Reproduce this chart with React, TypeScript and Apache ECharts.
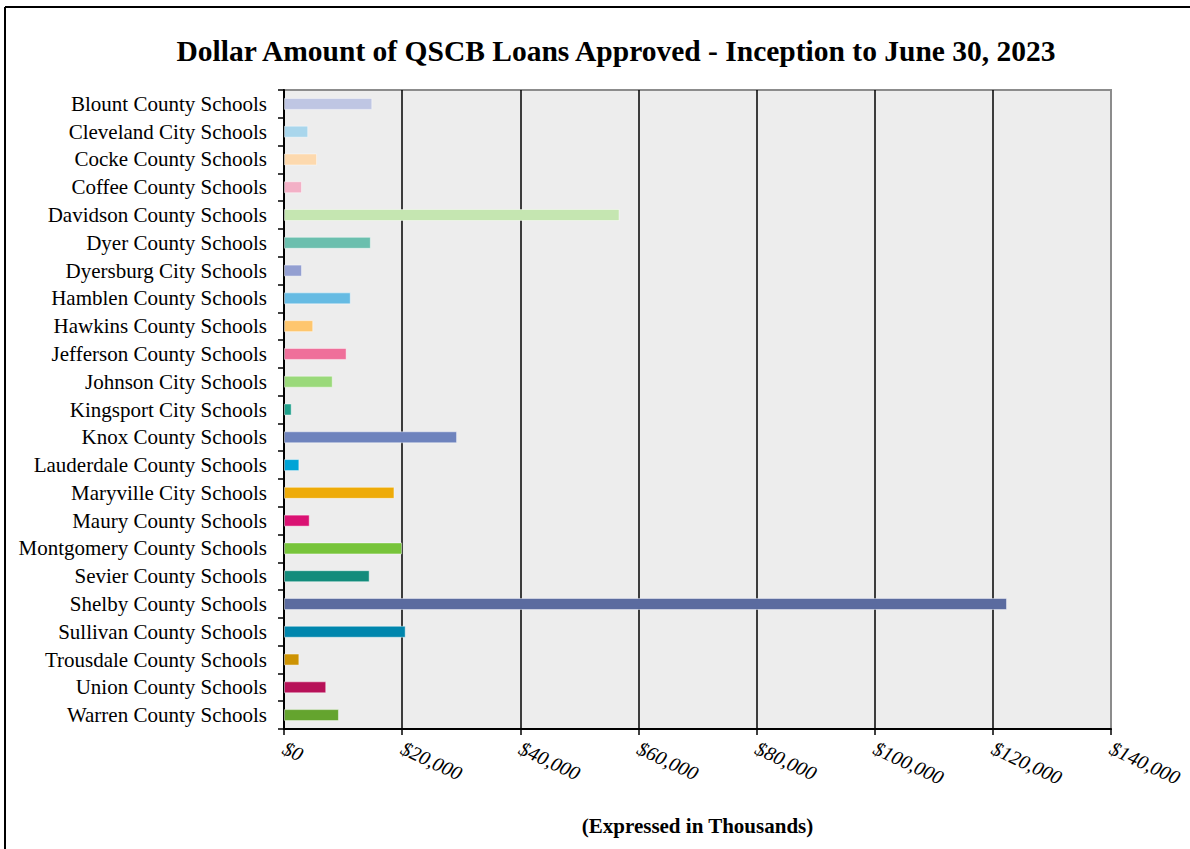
import React, { useEffect, useRef } from "react";
import * as echarts from "echarts";

const categories = [
  "Blount County Schools",
  "Cleveland City Schools",
  "Cocke County Schools",
  "Coffee County Schools",
  "Davidson County Schools",
  "Dyer County Schools",
  "Dyersburg City Schools",
  "Hamblen County Schools",
  "Hawkins County Schools",
  "Jefferson County Schools",
  "Johnson City Schools",
  "Kingsport City Schools",
  "Knox County Schools",
  "Lauderdale County Schools",
  "Maryville City Schools",
  "Maury County Schools",
  "Montgomery County Schools",
  "Sevier County Schools",
  "Shelby County Schools",
  "Sullivan County Schools",
  "Trousdale County Schools",
  "Union County Schools",
  "Warren County Schools",
];

const values = [
  14950, 4100, 5600, 3050, 56800, 14700, 3050, 11300, 4950, 10600, 8250, 1300,
  29300, 2600, 18700, 4350, 20000, 14500, 122400, 20600, 2600, 7150, 9300,
];

const colors = [
  "#bfc6e3", "#a9d6ec", "#fdd9ae", "#f3b0c6", "#c5e6b1", "#6bbfae", "#939fd1",
  "#66bbe3", "#fec66e", "#ef6f9a", "#9ad97a", "#1ea08a", "#6e83bd", "#00a4d6",
  "#eeab08", "#da1273", "#77c43a", "#138c7c", "#5b6b9f", "#0086ad", "#cd9303",
  "#b71158", "#64a42e",
];

const title = "Dollar Amount of QSCB Loans Approved - Inception to June 30, 2023";
const axisName = "(Expressed in Thousands)";

export default function App() {
  const ref = useRef<HTMLDivElement>(null);
  useEffect(() => {
    if (!ref.current) return;
    const chart = echarts.init(ref.current, null, { renderer: "svg" });
    const serif = "'Liberation Serif', 'Times New Roman', serif";
    chart.setOption({
      animation: false,
      backgroundColor: "#ffffff",
      title: {
        text: title,
        left: 611,
        textAlign: "center",
        top: 31,
        textStyle: {
          fontFamily: serif,
          fontWeight: "bold",
          fontSize: 29.5,
          color: "#000",
        },
      },
      graphic: [
        {
          type: "line",
          shape: { x1: 5, y1: 7, x2: 1190, y2: 7 },
          style: { stroke: "#000", lineWidth: 2 },
        },
        {
          type: "line",
          shape: { x1: 5, y1: 7, x2: 5, y2: 849 },
          style: { stroke: "#000", lineWidth: 2 },
        },
      ],
      grid: {
        left: 284,
        right: 79,
        top: 90,
        bottom: 120,
        show: true,
        backgroundColor: "#ededed",
        borderColor: "#8c8c8c",
        borderWidth: 2,
        containLabel: false,
        outerBoundsMode: "none",
      },
      xAxis: {
        type: "value",
        min: 0,
        max: 140000,
        interval: 20000,
        name: axisName,
        nameLocation: "middle",
        nameGap: 86,
        nameTextStyle: {
          fontFamily: serif,
          fontWeight: "bold",
          fontSize: 21,
          color: "#000",
        },
        axisLine: { show: true, lineStyle: { color: "#000", width: 2 } },
        axisTick: { show: true, length: 6, lineStyle: { color: "#000", width: 1.5 } },
        axisLabel: {
          rotate: -25,
          margin: 18,
          fontFamily: serif,
          fontStyle: "italic",
          fontSize: 20,
          color: "#000",
          formatter: (v: number) => "$" + v.toLocaleString("en-US"),
        },
        splitLine: {
          show: true,
          lineStyle: {
            color: ["#000", "#000", "#000", "#000", "#000", "#000", "#000", "#8c8c8c"],
            width: 1.5,
          },
        },
      },
      yAxis: {
        type: "category",
        inverse: true,
        data: categories,
        axisLine: { show: true, lineStyle: { color: "#000", width: 2 } },
        axisTick: { show: true, length: 6, lineStyle: { color: "#000", width: 1.5 } },
        axisLabel: {
          margin: 17,
          fontFamily: serif,
          fontSize: 21,
          color: "#000",
        },
        splitLine: { show: false },
      },
      series: [
        {
          type: "bar",
          barWidth: 12,
          data: values.map((v, i) => ({
            value: v,
            itemStyle: {
              color: colors[i],
              borderColor: "rgba(255,255,255,0.45)",
              borderWidth: 1,
            },
          })),
        },
      ],
    });
    return () => chart.dispose();
  }, []);
  return (
    <div
      ref={ref}
      style={{ position: "fixed", left: 0, top: 0, width: 1190, height: 849 }}
    />
  );
}
